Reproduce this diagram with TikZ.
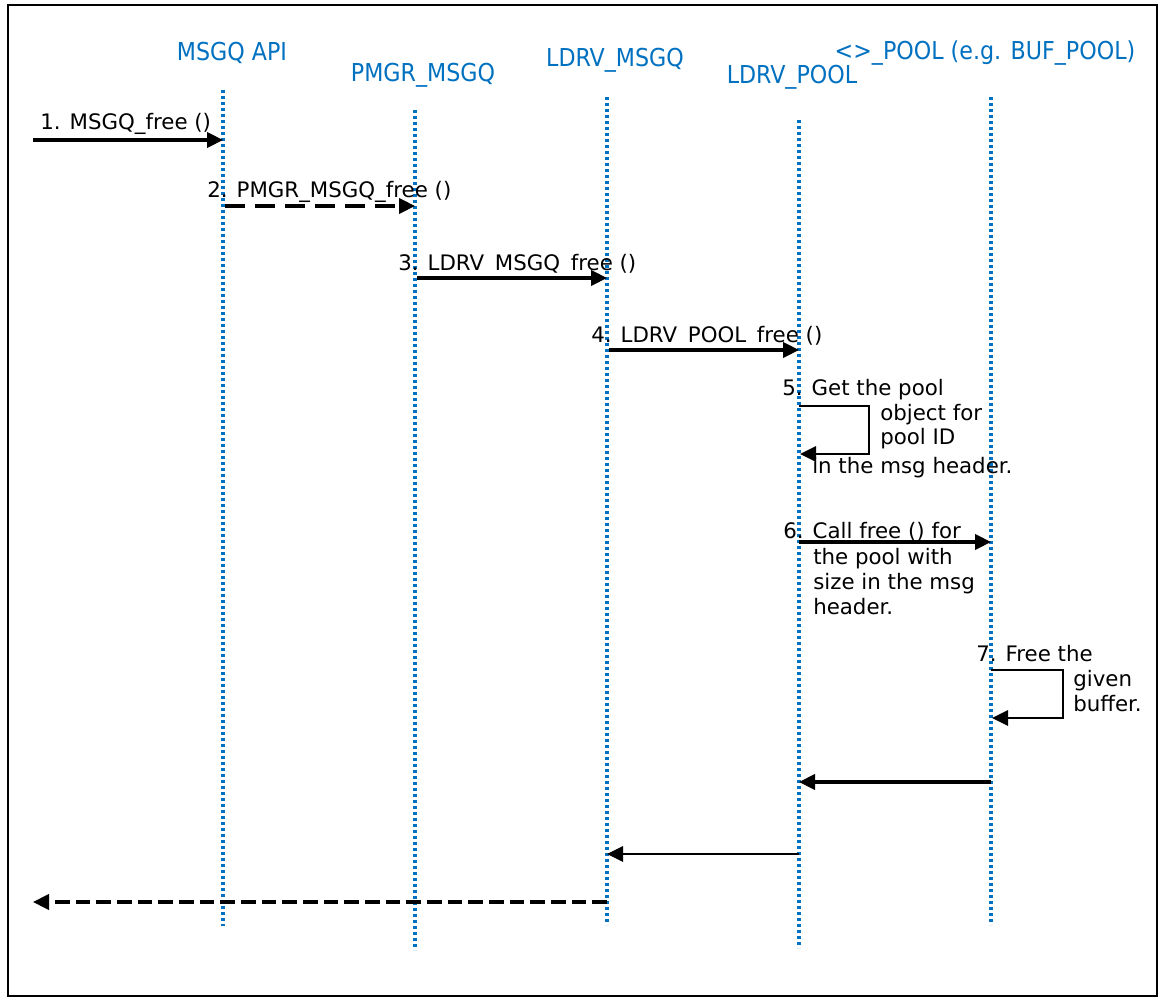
\documentclass[tikz,border=0pt]{standalone}
\usepackage{fontspec}
\setmainfont{DejaVu Sans}
\newfontfamily\headfont{DejaVu Sans Condensed}
\usetikzlibrary{arrows.meta, positioning}
\definecolor{lifeblue}{RGB}{0,112,192}

\begin{document}
\begin{tikzpicture}[x=0.75pt, y=-0.75pt,
    head/.style={font=\headfont\fontsize{18.5}{21}\selectfont, text=lifeblue, inner sep=0pt},
    lbl/.style={font=\fontsize{16}{19}\selectfont, inner sep=0pt, anchor=base west},
    lifeline/.style={draw=lifeblue, line width=2.6pt, dash pattern=on 2.4pt off 2.1pt},
    msg/.style={line width=2.3pt, -{Triangle[length=12pt, width=11.5pt]}},
    callback/.style={msg, dash pattern=on 15pt off 7.5pt},
    retmsg/.style={msg, dash pattern=on 11pt off 4.5pt},
    selfmsg/.style={line width=1.4pt, -{Triangle[length=12pt, width=11.5pt]}}]
    \useasboundingbox (0,0) rectangle (1160,998);
    \draw[line width=1.6pt] (8,5) rectangle (1157,996);

    % lifeline heads
    \node[head] (hapi) at (232,53) {MSGQ API};
    \node[head] (hpmgr) at (423,75) {PMGR\_MSGQ};
    \node[head] (hlmsgq) at (615,60) {LDRV\_MSGQ};
    \node[head] (hlpool) at (792,77) {LDRV\_POOL};
    \node[head] (hpool) at (985,53) {<>\_POOL (e.g. BUF\_POOL)};

    % lifelines
    \coordinate (apiT) at (223,90);   \coordinate (apiB) at (223,926);
    \coordinate (pmgrT) at (415,110); \coordinate (pmgrB) at (415,950);
    \coordinate (lmsgqT) at (607,97); \coordinate (lmsgqB) at (607,925);
    \coordinate (lpoolT) at (799,120); \coordinate (lpoolB) at (799,948);
    \coordinate (poolT) at (991,97);  \coordinate (poolB) at (991,925);
    \foreach \l in {api, pmgr, lmsgq, lpool, pool}
        \draw[lifeline] (\l T) -- (\l B);

    % calls
    \coordinate (m1) at (33,140);
    \draw[msg] (m1) -- (m1 -| apiT);
    \node[lbl] (l1) at (40,130) {1. MSGQ\_free ()};

    \coordinate (m2) at (225,206);
    \draw[callback] (m2) -- (m2 -| pmgrT);
    \node[lbl] (l2) at (207,198) {2. PMGR\_MSGQ\_free ()};

    \coordinate (m3) at (417,278);
    \draw[msg] (m3) -- (m3 -| lmsgqT);
    \node[lbl] (l3) at (398,271) {3. LDRV\phantom{\_}MSGQ\phantom{\_}free ()};

    \coordinate (m4) at (609,350);
    \draw[msg] (m4) -- (m4 -| lpoolT);
    \node[lbl] (l4) at (591,343) {4. LDRV\phantom{\_}POOL\phantom{\_}free ()};

    \coordinate (m5) at (799,406);
    \draw[selfmsg] (m5) -- ++(70,0) -- ++(0,48) -- ++(-69,0);
    \node[lbl] (l5a) at (782,396) {5. Get the pool};
    \node[lbl] (l5b) at (880,421) {object for};
    \node[lbl] (l5c) at (880,445) {pool ID};
    \node[lbl] (l5d) at (812,473) {in the msg header.};

    \coordinate (m6) at (799,542);
    \draw[msg] (m6) -- (m6 -| poolT);
    \node[lbl] (l6a) at (783,538) {6. Call free () for};
    \node[lbl] (l6b) at (813,564) {the pool with};
    \node[lbl] (l6c) at (813,589) {size in the msg};
    \node[lbl] (l6d) at (813,614) {header.};

    \coordinate (m7) at (991,670);
    \draw[selfmsg] (m7) -- ++(72,0) -- ++(0,48) -- ++(-71,0);
    \node[lbl] (l7a) at (976,661) {7. Free the};
    \node[lbl] (l7b) at (1073,686) {given};
    \node[lbl] (l7c) at (1073,711) {buffer.};

    % returns
    \coordinate (r1) at (991,782);
    \draw[msg] (r1) -- (r1 -| lpoolT);
    \coordinate (r2) at (799,854);
    \draw[msg, line width=1.7pt] (r2) -- (r2 -| lmsgqT);
    \coordinate (r3) at (607,902);
    \coordinate (out) at (33,902);
    \draw[retmsg] (r3) -- (out);
\end{tikzpicture}
\end{document}
